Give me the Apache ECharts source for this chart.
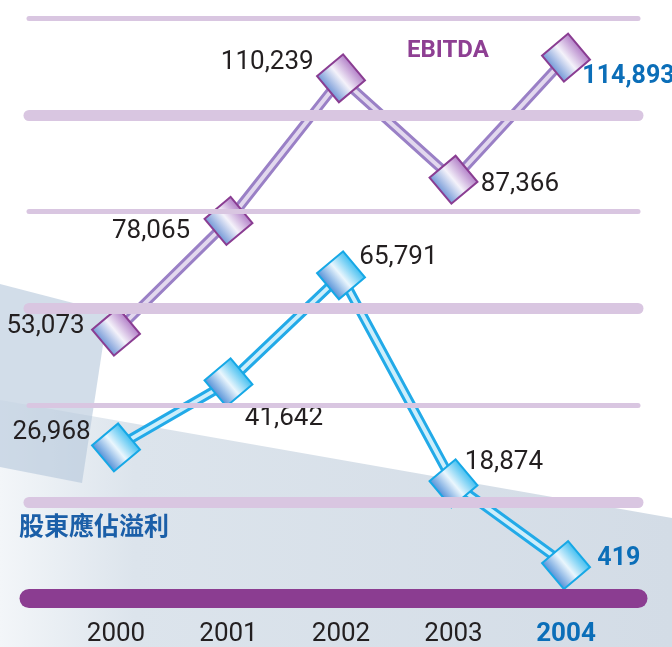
<!DOCTYPE html>
<html>
<head>
<meta charset="utf-8">
<script src="https://cdn.jsdelivr.net/npm/echarts@6/dist/echarts.min.js"></script>
<style>
  html, body { margin: 0; padding: 0; background: #fff; }
  #chart { width: 672px; height: 647px; }
</style>
</head>
<body>
<div id="chart"></div>
<script>
// chart values
var years = ['2000', '2001', '2002', '2003', '2004'];
var ebitda = [53073, 78065, 110239, 87366, 114893];
var profit = [26968, 41642, 65791, 18874, 419];
var bandLevels = [0, 1, 2, 3, 4, 5, 6];

var chart = echarts.init(document.getElementById('chart'));

var fmt = function (v) { return v.toLocaleString('en-US'); };

// label placement next to each marker: [side, dx, dy]
var ebitdaLbl = [['left', -6, -5], ['left', -13, 11], ['left', -2, -16], ['right', 2, 5], ['right', -9, 19]];
var profitLbl = [['left', 0, -15], ['right', -9, 36], ['right', -7, -18], ['right', -14, -21], ['right', 6, -6]];

function items(values, lbl) {
  return values.map(function (v, i) {
    var last = i === values.length - 1;
    return {
      value: v,
      label: {
        position: lbl[i][0],
        distance: 0,
        offset: [lbl[i][1], lbl[i][2]],
        color: last ? '#0B6EB8' : '#231F20',
        fontWeight: last ? 'bold' : 'normal',
        fontSize: last ? 25 : 26
      }
    };
  });
}

function bandStyle(i) {
  if (i === 0) return { color: '#8B3D91', width: 19, type: 'solid', cap: 'round' };
  return { color: '#D9C6E1', width: i % 2 === 1 ? 11 : 5, type: 'solid', cap: 'round' };
}

var markerLabel = {
  show: true,
  fontSize: 26,
  fontFamily: 'Roboto',
  formatter: function (p) { return fmt(p.value); }
};

var option = {
  animation: false,
  graphic: [
    {
      type: 'polygon', z: -10, silent: true,
      shape: { points: [[0, 400], [672, 518], [672, 647], [0, 647]] },
      style: {
        fill: new echarts.graphic.LinearGradient(0, 0, 1, 0, [
          { offset: 0, color: '#F3F6F9' },
          { offset: 0.2, color: '#DCE4EC' },
          { offset: 1, color: '#D3DCE6' }
        ])
      }
    },
    {
      type: 'polygon', z: -9, silent: true,
      shape: { points: [[0, 284], [108, 312], [82, 483], [0, 467]] },
      style: { fill: 'rgba(180,198,218,0.6)' }
    },
    {
      type: 'text', left: 407, top: 39, silent: true,
      style: { text: 'EBITDA', fill: '#8E3F93', font: 'bold 24px Roboto' }
    },
    {
      type: 'text', left: 19, top: 513, silent: true,
      style: { text: '股東應佔溢利', fill: '#1B5FA8', font: 'bold 25px "Noto Sans CJK TC"' }
    }
  ],
  grid: [
    { left: 29, right: 34, top: 18, bottom: 48.5 },
    { left: 59.75, right: 49.75, top: 35, bottom: 64.8 }
  ],
  xAxis: [
    { gridIndex: 0, type: 'category', data: years, show: false },
    {
      gridIndex: 1, type: 'category', data: years,
      axisLine: { show: false }, axisTick: { show: false }, splitLine: { show: false },
      axisLabel: {
        interval: 0, margin: 54, fontSize: 26, fontFamily: 'Roboto', color: '#231F20',
        formatter: function (v, i) { return i === years.length - 1 ? '{hi|' + v + '}' : v; },
        rich: { hi: { fontSize: 26, fontFamily: 'Roboto', fontWeight: 'bold', color: '#0B6EB8' } }
      }
    }
  ],
  yAxis: [
    { gridIndex: 0, type: 'value', min: 0, max: 6, interval: 1, show: false },
    { gridIndex: 1, type: 'value', min: 0, max: 120000, show: false }
  ],
  series: [
    {
      name: 'bands', type: 'line', xAxisIndex: 0, yAxisIndex: 0, data: [], silent: true,
      markLine: {
        silent: true, symbol: ['none', 'none'], label: { show: false },
        data: bandLevels.map(function (lv, i) { return { yAxis: lv, lineStyle: bandStyle(i) }; })
      }
    },
    {
      name: 'EBITDA-edge', type: 'line', xAxisIndex: 1, yAxisIndex: 1, data: ebitda,
      showSymbol: false, silent: true,
      lineStyle: { color: '#9A80C6', width: 10 }
    },
    {
      name: 'profit-edge', type: 'line', xAxisIndex: 1, yAxisIndex: 1, data: profit,
      showSymbol: false, silent: true,
      lineStyle: { color: '#22AAE8', width: 10 }
    },
    {
      name: 'EBITDA', type: 'line', xAxisIndex: 1, yAxisIndex: 1, data: items(ebitda, ebitdaLbl),
      symbol: 'rect', symbolSize: 34, symbolRotate: 40,
      lineStyle: { color: '#E2D8EE', width: 4 },
      itemStyle: {
        color: new echarts.graphic.LinearGradient(0, 0, 1, 0, [
          { offset: 0, color: '#6E95D6' },
          { offset: 0.5, color: '#F4F2FA' },
          { offset: 1, color: '#B07CC6' }
        ]),
        borderColor: '#8A3D92', borderWidth: 2
      },
      label: markerLabel
    },
    {
      name: '股東應佔溢利', type: 'line', xAxisIndex: 1, yAxisIndex: 1, data: items(profit, profitLbl),
      symbol: 'rect', symbolSize: 34, symbolRotate: 40,
      lineStyle: { color: '#CDEEFB', width: 4 },
      itemStyle: {
        color: new echarts.graphic.LinearGradient(0, 0, 1, 0, [
          { offset: 0, color: '#4F8DD6' },
          { offset: 0.5, color: '#EAF6FD' },
          { offset: 1, color: '#3DBDF0' }
        ]),
        borderColor: '#16A8E6', borderWidth: 2
      },
      label: markerLabel
    }
  ]
};

chart.setOption(option);
</script>
</body>
</html>
